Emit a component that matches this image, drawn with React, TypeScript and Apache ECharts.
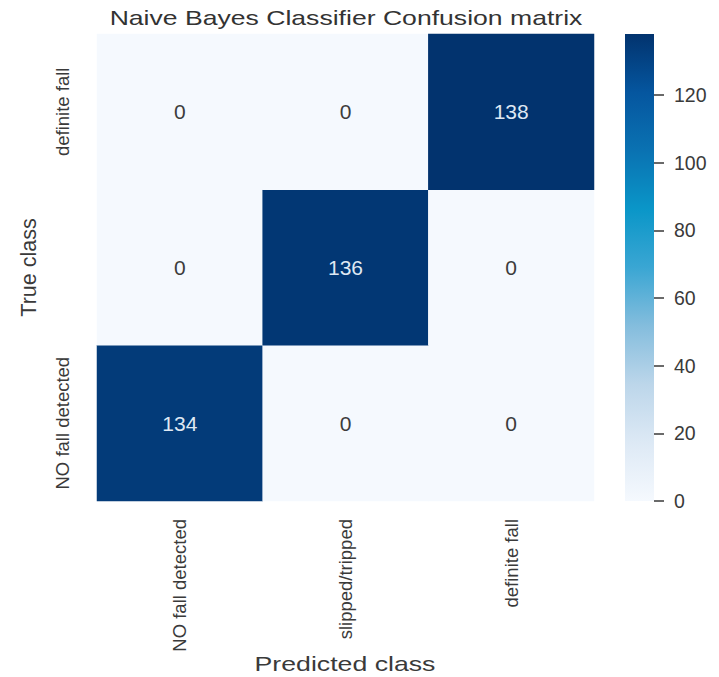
import React, { useEffect, useRef } from "react";
import * as echarts from "echarts";

// Class names (x: predicted class, y: true class; y listed bottom -> top)
const classes = ["NO fall detected", "slipped/tripped", "definite fall"];

// Confusion matrix counts: matrix[trueIndex][predictedIndex]
const matrix: number[][] = [
  [134, 0, 0], // true: NO fall detected
  [0, 136, 0], // true: slipped/tripped
  [0, 0, 138], // true: definite fall
];

const colorbarTicks = [0, 20, 40, 60, 80, 100, 120];
const valueMin = 0;
const valueMax = 138;

const titleText = "Naive Bayes Classifier Confusion matrix";
const xName = "Predicted class";
const yName = "True class";

// Blues-like colour ramp (light -> dark)
const rampColors = [
  "#f5f9fe",
  "#dde9f5",
  "#bcd6ea",
  "#84bddd",
  "#3aa6d3",
  "#0a96c8",
  "#0a72b2",
  "#05569f",
  "#02336e",
];

const FONT = "Liberation Sans, Arial, Helvetica, sans-serif";

export default function App() {
  const ref = useRef<HTMLDivElement>(null);

  useEffect(() => {
    if (!ref.current) return;
    const chart = echarts.init(ref.current, null, { renderer: "svg" });

    const heatData: any[] = [];
    matrix.forEach((row, yi) =>
      row.forEach((v, xi) => {
        heatData.push({
          value: [xi, yi, v],
          label: { color: v > (valueMax - valueMin) / 2 ? "#dfe8f3" : "#3c3c3c" },
        });
      })
    );

    const gradientStops = rampColors.map((c, i) => ({
      offset: i / (rampColors.length - 1),
      color: c,
    }));

    chart.setOption({
      animation: false,
      backgroundColor: "#ffffff",
      textStyle: { fontFamily: FONT },
      grid: [
        { left: 97, top: 34, width: 497, height: 467 },
        { left: 625, top: 34, width: 29, height: 467 },
      ],
      xAxis: [
        {
          type: "category",
          gridIndex: 0,
          data: classes,
          axisLine: { show: false },
          axisTick: { show: false },
          splitLine: { show: false },
          axisLabel: {
            rotate: 90,
            margin: 18,
            fontSize: 18.5,
            color: "#3a3a3a",
            fontFamily: FONT,
          },
        },
        {
          type: "category",
          gridIndex: 1,
          data: ["scale"],
          show: false,
        },
      ],
      yAxis: [
        {
          type: "category",
          gridIndex: 0,
          data: classes,
          axisLine: { show: false },
          axisTick: { show: false },
          splitLine: { show: false },
          axisLabel: {
            rotate: 90,
            margin: 25,
            fontSize: 18.5,
            color: "#3a3a3a",
            fontFamily: FONT,
          },
          name: yName,
          nameLocation: "middle",
          nameRotate: 90,
          nameGap: 57,
          nameTextStyle: { fontSize: 21.5, color: "#3a3a3a", fontFamily: FONT },
        },
        {
          type: "value",
          gridIndex: 1,
          position: "right",
          min: valueMin,
          max: valueMax,
          interval: 20,
          axisLine: { show: false },
          splitLine: { show: false },
          axisTick: {
            show: true,
            length: 10,
            customValues: colorbarTicks,
            lineStyle: { color: "#444444", width: 1.6 },
          },
          axisLabel: {
            margin: 20,
            fontSize: 19.5,
            color: "#3a3a3a",
            fontFamily: FONT,
            customValues: colorbarTicks,
          },
        },
      ],
      visualMap: {
        type: "continuous",
        show: false,
        min: valueMin,
        max: valueMax,
        seriesIndex: 0,
        dimension: 2,
        inRange: { color: rampColors },
      },
      series: [
        {
          type: "heatmap",
          xAxisIndex: 0,
          yAxisIndex: 0,
          data: heatData,
          label: {
            show: true,
            fontSize: 21,
            fontFamily: FONT,
            formatter: (p: any) => String(p.value[2]),
          },
          emphasis: { disabled: true },
        },
        {
          type: "bar",
          xAxisIndex: 1,
          yAxisIndex: 1,
          data: [valueMax],
          barWidth: "100%",
          silent: true,
          itemStyle: {
            color: new echarts.graphic.LinearGradient(0, 1, 0, 0, gradientStops),
          },
        },
      ],
      graphic: [
        {
          type: "text",
          x: 346,
          y: 18,
          scaleX: 1.33,
          style: {
            text: titleText,
            fontSize: 20,
            fontFamily: FONT,
            fill: "#333333",
            textAlign: "center",
            textVerticalAlign: "middle",
          },
        },
        {
          type: "text",
          x: 345,
          y: 664,
          scaleX: 1.27,
          style: {
            text: xName,
            fontSize: 21,
            fontFamily: FONT,
            fill: "#3a3a3a",
            textAlign: "center",
            textVerticalAlign: "middle",
          },
        },
      ],
    });

    return () => chart.dispose();
  }, []);

  return (
    <div
      ref={ref}
      style={{ position: "absolute", left: 0, top: 0, width: 719, height: 677 }}
    />
  );
}
